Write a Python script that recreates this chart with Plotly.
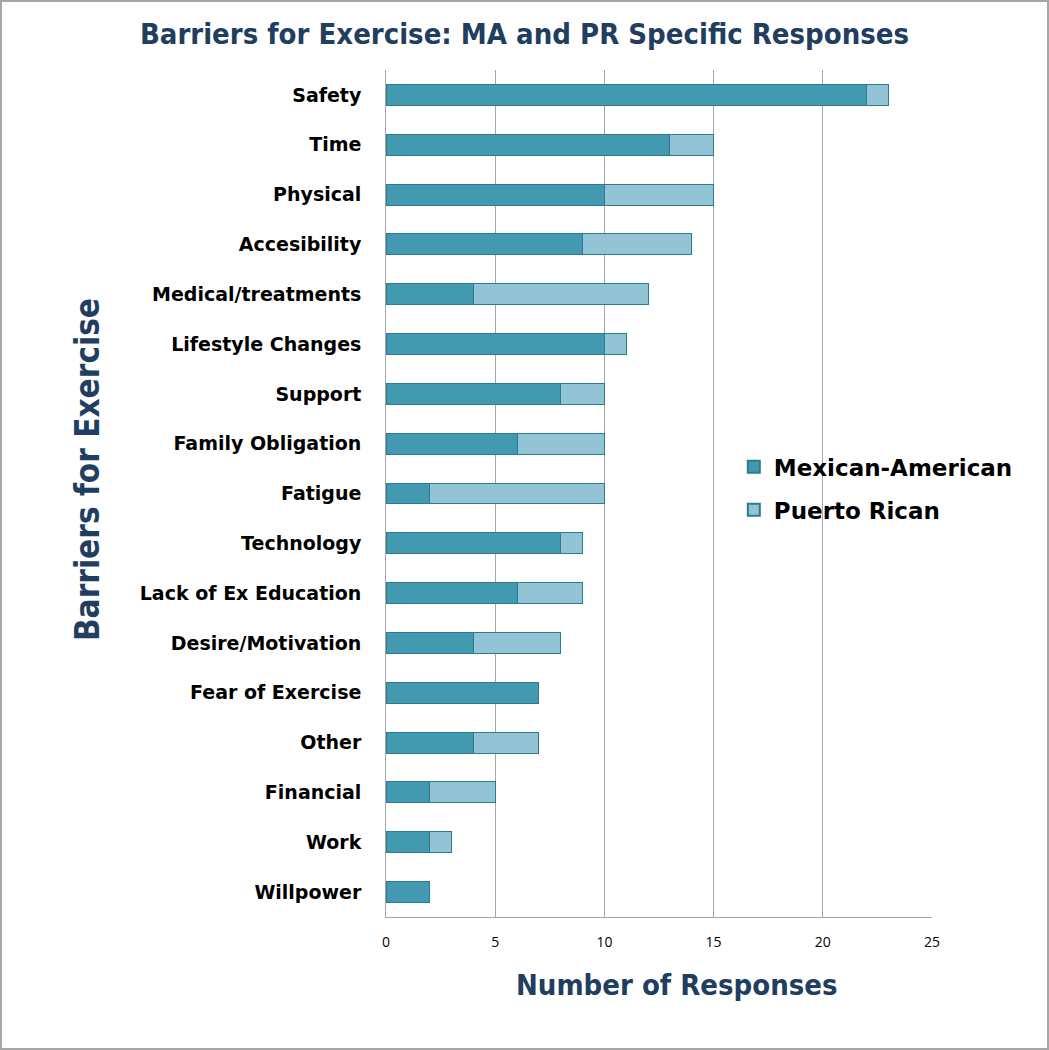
import plotly.graph_objects as go

categories = ["Safety", "Time", "Physical", "Accesibility", "Medical/treatments",
              "Lifestyle Changes", "Support", "Family Obligation", "Fatigue",
              "Technology", "Lack of Ex Education", "Desire/Motivation",
              "Fear of Exercise", "Other", "Financial", "Work", "Willpower"]
mexican_american = [22, 13, 10, 9, 4, 10, 8, 6, 2, 8, 6, 4, 7, 4, 2, 2, 2]
puerto_rican = [1, 2, 5, 5, 8, 1, 2, 4, 8, 1, 3, 4, 0, 3, 3, 1, 0]
x_ticks = [0, 5, 10, 15, 20, 25]

navy = "#213E60"
heavy = "DejaVu Sans Condensed, DejaVu Sans, Liberation Sans"
fig = go.Figure()
fig.add_trace(go.Bar(y=categories, x=mexican_american, orientation="h", name="<b>Mexican-American</b>",
                     legendgroup="ma",
                     marker=dict(color="#4399B0", line=dict(color="#2B7C90", width=1)), width=0.42))
fig.add_trace(go.Bar(y=categories, x=puerto_rican, orientation="h", name="<b>Puerto Rican</b>",
                     legendgroup="pr",
                     marker=dict(color="#93C4D6", line=dict(color="#2B7C90", width=1)), width=0.42))

fig.update_layout(
    barmode="stack",
    width=1049, height=1050,
    paper_bgcolor="white", plot_bgcolor="white",
    margin=dict(l=386, r=117, t=70, b=133),
    title=dict(text="<b>Barriers for Exercise: MA and PR Specific Responses</b>",
               x=0.5, xanchor="center", y=0.968, yanchor="middle",
               font=dict(family=heavy, size=29, color=navy)),
    xaxis=dict(range=[0, 25], tickvals=x_ticks, showgrid=True, gridcolor="#A6A6A6", gridwidth=1,
               showline=True, linecolor="#A6A6A6", linewidth=1, zeroline=False,
               ticks="", ticklabelstandoff=12,
               tickfont=dict(family="Open Sans, Liberation Sans", size=14, color="black")),
    yaxis=dict(categoryorder="array", categoryarray=categories[::-1],
               showline=True, linecolor="#A6A6A6", linewidth=1, ticks="", ticklen=0,
               ticksuffix="   ",
               tickfont=dict(family="DejaVu Sans, Liberation Sans", size=19, color="black", weight="bold")),
    legend=dict(x=0.637, y=0.506, xanchor="left", yanchor="middle", bgcolor="rgba(255,255,255,0)",
                font=dict(family="DejaVu Sans, Liberation Sans", size=23, color="black"), traceorder="grouped",
                itemsizing="constant", tracegroupgap=10),
    showlegend=True,
    annotations=[
        dict(text="<b>Number of Responses</b>", xref="paper", yref="paper",
             x=(677 - 386) / 546, y=(917 - 985) / 847, xanchor="center", yanchor="middle",
             showarrow=False, font=dict(family=heavy, size=29, color=navy)),
        dict(text="<b>Barriers for Exercise</b>", xref="paper", yref="paper",
             x=(88 - 386) / 546, y=(917 - 470) / 847, xanchor="center", yanchor="middle",
             textangle=-90, showarrow=False, font=dict(family=heavy, size=33, color=navy)),
    ],
    shapes=[dict(type="rect", xref="paper", yref="paper", x0=-385/546, x1=(1048-386)/546,
                 y0=(917-1049)/847, y1=(917-1)/847, line=dict(color="#A6A6A6", width=2), layer="below")],
)
fig.write_html("out.html", config={"displayModeBar": False},
               post_script="document.body.style.margin='0';document.body.style.padding='0';")
